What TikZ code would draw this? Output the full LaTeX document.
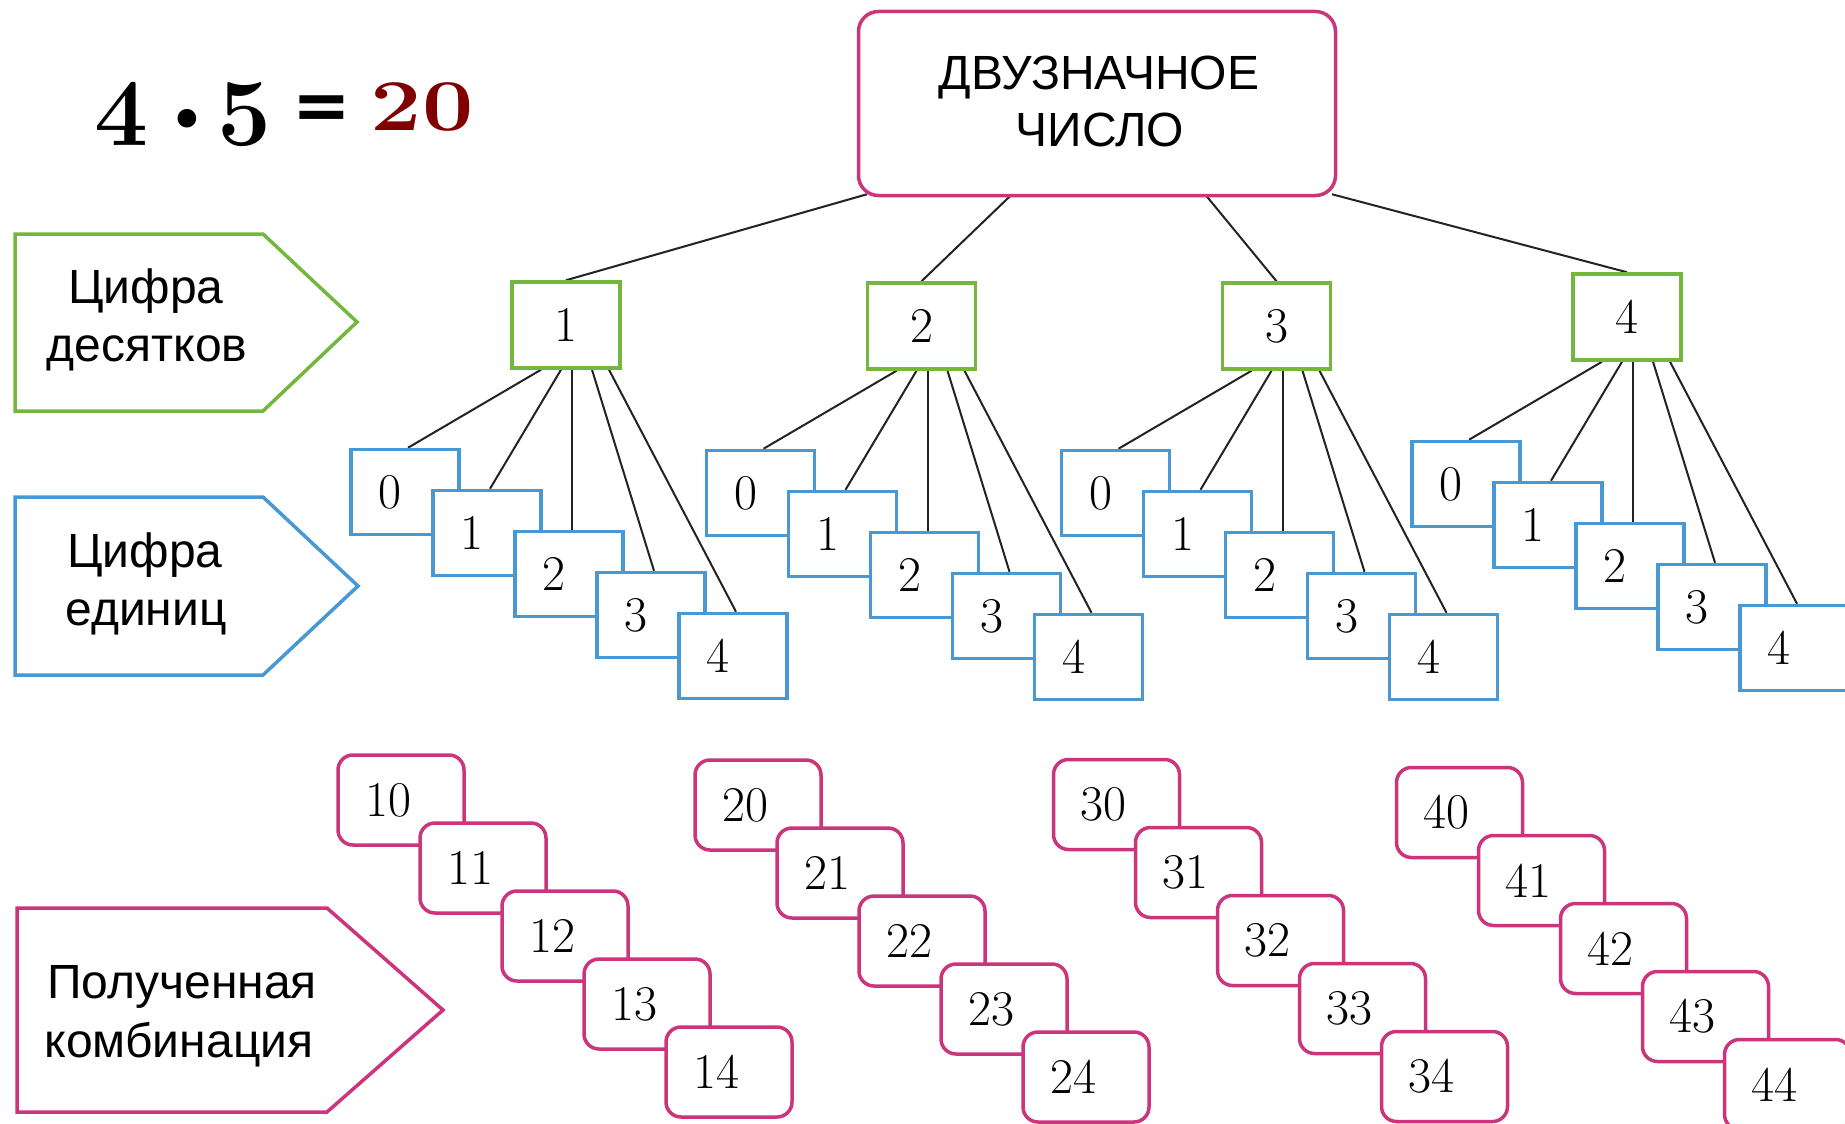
\documentclass[tikz,border=0pt]{standalone}
\usepackage{fontspec}
\newfontfamily\lab{Liberation Sans}
\newfontfamily\djv{DejaVu Sans}
\usetikzlibrary{calc}
\definecolor{cgreen}{RGB}{116,182,62}
\definecolor{cblue}{RGB}{72,152,212}
\definecolor{cmag}{RGB}{204,52,124}
\definecolor{cmaroon}{RGB}{128,0,0}
\definecolor{cline}{RGB}{35,35,35}
\pgfdeclarelayer{back}
\pgfdeclarelayer{bg}
\pgfsetlayers{back,bg,main}
\begin{document}
\begin{tikzpicture}[x=1pt,y=-1pt,
  gbox/.style={draw=cgreen, line width=3.5pt, fill=white, minimum width=108pt, minimum height=86pt, inner sep=0pt},
  bbox/.style={draw=cblue, line width=3.5pt, fill=white, minimum width=108pt, minimum height=85pt, inner sep=0pt},
  mbox/.style={draw=cmag, line width=3.5pt, fill=white, rounded corners=15pt, minimum width=126pt, minimum height=90pt, inner sep=0pt},
  digit/.style={font=\fontsize{50}{50}\selectfont, inner sep=0pt},
  lbl/.style={font=\lab\fontsize{48}{48}\selectfont, inner sep=0pt, anchor=base},
  conn/.style={draw=cline, line width=2pt},
  tag/.style={line width=3.5pt, fill=white, line join=miter}
]
\useasboundingbox (0,0) rectangle (1845,1124);
\begin{pgfonlayer}{back}
\fill[white] (0,0) rectangle (1845,1124);
\end{pgfonlayer}

% title
\node[font=\fontsize{96}{96}\selectfont\bfseries, anchor=base, inner sep=0pt] (n4) at (121.5,145) {4};
\node[font=\djv\fontsize{64}{64}\selectfont, inner sep=0pt] (dot) at (187,126) {•};
\node[font=\fontsize{96}{96}\selectfont\bfseries, anchor=base, inner sep=0pt] (n5) at (244.5,145) {5};
\node[font=\djv\fontsize{70}{70}\selectfont\bfseries, inner sep=0pt] (eq) at (322,113) {=};
\node[font=\fontsize{73}{73}\selectfont\bfseries, text=cmaroon, anchor=base, inner sep=0pt] (n20) at (422,130) {\scalebox{1.25}[1]{20}};

% left tags
\draw[tag, draw=cgreen] (15,234) -- (263,234) -- (357,322) -- (263,411) -- (15,411) -- cycle;
\node[lbl] (t1a) at (146,303) {Цифра};
\node[lbl] (t1b) at (147,361) {десятков};
\draw[tag, draw=cblue] (15,497) -- (263,497) -- (358,586) -- (263,675) -- (15,675) -- cycle;
\node[lbl] (t2a) at (145,567) {Цифра};
\node[lbl] (t2b) at (146,625) {единиц};
\draw[tag, draw=cmag] (17,908) -- (327,908) -- (443,1010) -- (327,1112) -- (17,1112) -- cycle;
\node[lbl] (t3a) at (182,998) {Полученная};
\node[lbl] (t3b) at (179,1057) {комбинация};

% top box
\node[draw=cmag, line width=3.5pt, fill=white, rounded corners=20pt, minimum width=477pt, minimum height=184pt, inner sep=0pt] (top) at (1097,103.5) {};
\node[font=\lab\fontsize{48}{48}\selectfont, anchor=base, inner sep=0pt] (topa) at (1099,89) {ДВУЗНАЧНОЕ};
\node[font=\lab\fontsize{48}{48}\selectfont, anchor=base, inner sep=0pt] (topb) at (1100,146) {ЧИСЛО};

% tens digits
\foreach \i/\x/\y in {1/566/325, 2/921.5/326, 3/1276.5/326, 4/1627/317} {
  \node[gbox] (g\i) at (\x,\y) {};
  \node[digit] (gd\i) at (g\i) {\i};
}

% units digits
\foreach \i/\x/\y in {1/566/325, 2/921.5/326, 3/1276.5/326, 4/1627/317} {
  \foreach \j in {0,...,4} {
    \node[bbox] (b\i\j) at ({\x-161+82*\j},{\y+167+41*\j}) {};
    \node[digit] (bd\i\j) at ($(b\i\j)+(-15,0)$) {\j};
  }
}

% combinations
\foreach \i/\x/\y in {1/401/800, 2/758/805, 3/1116.5/804.5, 4/1459.5/812.5} {
  \foreach \j in {0,...,4} {
    \node[mbox] (m\i\j) at ({\x+82*\j},{\y+68*\j}) {};
    \node[digit] (md\i\j) at ($(m\i\j)+(-13,0)$) {\i\j};
  }
}

% connectors
\begin{pgfonlayer}{bg}
  \foreach \i/\dx in {1/-230, 2/-85, 3/108, 4/235} {
    \draw[conn] ($(top.south)+(\dx,-3)$) -- (g\i.north);
  }
  \foreach \i in {1,...,4} {
    \foreach \j/\dx in {0/-25, 1/-5, 2/6, 3/26, 4/43} {
      \draw[conn] ($(g\i.south)+(\dx,0)$) -- ($(b\i\j.north)+(3,0)$);
    }
  }
\end{pgfonlayer}
\end{tikzpicture}
\end{document}
